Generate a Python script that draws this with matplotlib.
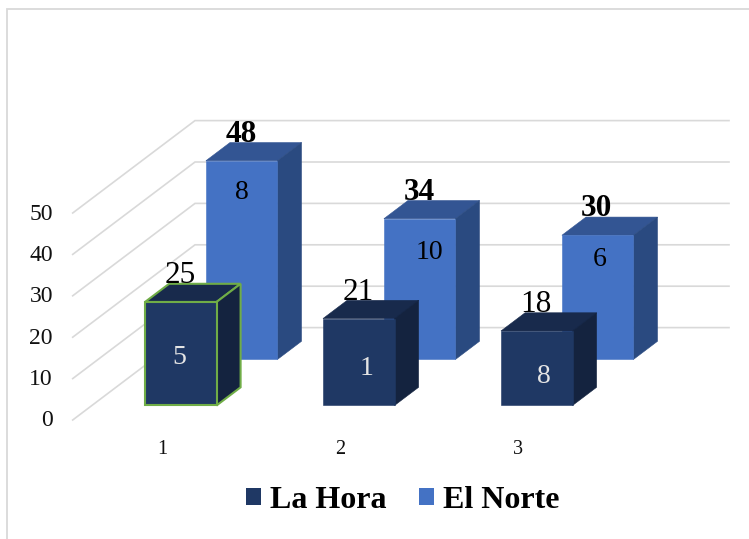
#!/usr/bin/env python3
"""Grafico de columnas 3D (La Hora / El Norte) dibujado con proyeccion oblicua."""

import matplotlib
matplotlib.use('Agg')
import matplotlib.pyplot as plt
from matplotlib.patches import Patch, Polygon

plt.rcParams['font.family'] = ['Liberation Serif', 'DejaVu Serif']

# datos
categories = ['1', '2', '3']
y_ticks = [0, 10, 20, 30, 40, 50]
la_hora = [25, 21, 18]
el_norte = [48, 34, 30]
la_hora_inner = ['5', '1', '8']
el_norte_inner = ['8', '10', '6']

# geometria de la proyeccion (pixeles)
W, H = 749, 539
Y_ZERO = 420.0
PX_PER_UNIT = 4.14
DEPTH_X, DEPTH_Y = 122.3, 92.4
AXIS_X = 72.7
WALL_RIGHT = 729
CAT_X = 125.8
CAT_STEP = 178
BAR_W = 71.5
BAR_DEPTH = 0.197

# colores: frente, tapa, lateral
DARK = ('#1F3864', '#182A4C', '#14233F')
BLUE = ('#4472C4', '#335593', '#2A4A80')
GRID = '#D9D9D9'


def project(x, depth, value):
    return (x + DEPTH_X * depth, Y_ZERO - DEPTH_Y * depth - PX_PER_UNIT * value)


def draw_bar(ax, x, depth, value, colors, edge=None):
    d0, d1 = depth, depth + BAR_DEPTH
    x1 = x + BAR_W
    top = [project(x, d0, value), project(x1, d0, value), project(x1, d1, value), project(x, d1, value)]
    side = [project(x1, d0, 0), project(x1, d1, 0), project(x1, d1, value), project(x1, d0, value)]
    front = [project(x, d0, 0), project(x1, d0, 0), project(x1, d0, value), project(x, d0, value)]
    for pts, col in zip([top, side, front], [colors[1], colors[2], colors[0]]):
        ax.add_patch(Polygon(pts, closed=True, facecolor=col,
                             edgecolor=edge if edge else col,
                             linewidth=1.5 if edge else 0.4, joinstyle='miter'))


def draw_series(ax, values, inner, depth, colors, inner_color, offsets, weight, edge_first=None):
    for i, value in enumerate(values):
        x = CAT_X + CAT_STEP * i
        draw_bar(ax, x, depth, value, colors, edge_first if i == 0 else None)
        fx, fy = project(x, depth, value)
        ax.text(fx + 35, fy - 26.5, str(value), ha='center', va='center',
                fontsize=22.5, fontweight=weight, color='black', zorder=5)
        ax.text(fx + BAR_W / 2 + offsets[i][0], fy + offsets[i][1], inner[i],
                ha='center', va='center', fontsize=20, color=inner_color, zorder=5)


fig = plt.figure(figsize=(W / 100, H / 100), dpi=100)
ax = fig.add_axes([0, 0, 1, 1])
ax.set_xlim(0, W)
ax.set_ylim(H, 0)
ax.axis('off')

# marco del grafico
ax.plot([6.5, 6.5, W], [H, 9, 9], color=GRID, lw=1.3, solid_joinstyle='miter')

# rejilla: diagonal del suelo/pared mas linea horizontal
for v in y_ticks:
    start = project(AXIS_X, 0, v)
    corner = project(AXIS_X, 1, v)
    ax.plot([start[0], corner[0], WALL_RIGHT], [start[1], corner[1], corner[1]],
            color=GRID, lw=1.2, solid_joinstyle='miter', zorder=1)
    ax.text(53, start[1] + 1, str(v), ha='right', va='center', fontsize=17, color='#111111')

# serie de atras primero
draw_series(ax, el_norte, el_norte_inner, 0.655, BLUE, 'black',
            [(0, 32), (10, 34), (2, 24)], 'bold')
draw_series(ax, la_hora, la_hora_inner, 0.157, DARK, '#E4E4E4',
            [(-2, 56), (8, 50), (7, 46)], 'normal', edge_first='#70AD47')

for i, cat in enumerate(categories):
    ax.text(162 + CAT_STEP * i, 449.5, cat, ha='center', va='center', fontsize=14.5, color='#111111')

handles = [Patch(facecolor=DARK[0], label='La Hora'), Patch(facecolor=BLUE[0], label='El Norte')]
ax.legend(handles=handles, ncol=2, frameon=False, loc='center', bbox_to_anchor=(403 / W, 1 - 500.5 / H),
          prop={'size': 23, 'weight': 'bold'}, handlelength=0.46, handleheight=0.46,
          handletextpad=0.28, columnspacing=1.03, borderpad=0, borderaxespad=0)

fig.savefig('out.png', dpi=100)
